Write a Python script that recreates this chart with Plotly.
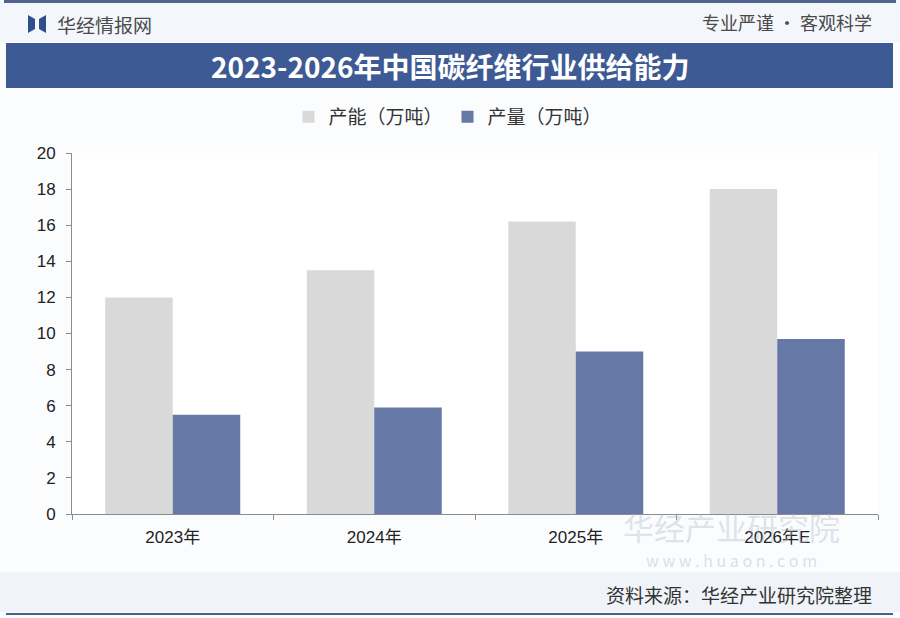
import plotly.graph_objects as go

# data
years = ['2023年', '2024年', '2025年', '2026年E']
capacity = [12.0, 13.5, 16.2, 18.0]   # 产能（万吨）
output = [5.5, 5.9, 9.0, 9.7]         # 产量（万吨）
y_ticks = list(range(0, 21, 2))

W, H = 900, 618
# plot area in pixels
L, R, T, B = 72, 878, 153, 514

FONT = 'Noto Sans CJK SC'
TICK_FONT = 'Liberation Sans, Noto Sans CJK SC'
NAVY = '#3d5a94'


def px(x):
    return (x - L) / (R - L)


def py(y):
    return (B - y) / (B - T)


fig = go.Figure()
fig.add_trace(go.Bar(name='产能（万吨）', x=years, y=capacity,
                     marker=dict(color='#d9d9d9', line_width=0)))
fig.add_trace(go.Bar(name='产量（万吨）', x=years, y=output,
                     marker=dict(color='#6578a6', line_width=0)))

shapes = [
    # header strip
    dict(type='rect', xref='paper', yref='paper', x0=px(0), x1=px(W), y0=py(42), y1=py(0),
         fillcolor='#f3f6fa', line_width=0, layer='below'),
    # top rule
    dict(type='rect', xref='paper', yref='paper', x0=px(4), x1=px(896), y0=py(3), y1=py(0),
         fillcolor='#4f6590', line_width=0),
    # title band
    dict(type='rect', xref='paper', yref='paper', x0=px(6), x1=px(893), y0=py(88), y1=py(43),
         fillcolor=NAVY, line_width=0),
    # footer band
    dict(type='rect', xref='paper', yref='paper', x0=px(0), x1=px(W), y0=py(612), y1=py(572),
         fillcolor='#f0f3f7', line_width=0, layer='below'),
    # bottom rule
    dict(type='line', xref='paper', yref='paper', x0=px(6), x1=px(893), y0=py(614), y1=py(614),
         line=dict(color='#4a5f88', width=2)),
    # logo mark
    dict(type='path', xref='paper', yref='paper', line_width=0, fillcolor='#2f4f8c',
         path=(f'M {px(28)},{py(15)} L {px(35)},{py(19)} L {px(35)},{py(29)} '
               f'L {px(28)},{py(33)} Z '
               f'M {px(46)},{py(15)} L {px(39)},{py(19)} L {px(39)},{py(29)} '
               f'L {px(46)},{py(33)} Z')),
]

annotations = [
    dict(text='华经情报网', x=px(55), y=py(24), xref='paper', yref='paper',
         xanchor='left', yanchor='middle', showarrow=False,
         font=dict(family=FONT, size=19, color='#4a4a4a')),
    dict(text='专业严谨 • 客观科学', x=px(874), y=py(22), xref='paper', yref='paper',
         xanchor='right', yanchor='middle', showarrow=False,
         font=dict(family=FONT, size=18, color='#4a4a4a')),
    dict(text='<b>2023-2026年中国碳纤维行业供给能力</b>', x=px(450), y=py(66),
         xref='paper', yref='paper', xanchor='center', yanchor='middle', showarrow=False,
         font=dict(family=FONT, size=28, color='white')),
    # watermark
    dict(text='华经产业研究院', x=px(731), y=py(526), xref='paper', yref='paper',
         xanchor='center', yanchor='middle', showarrow=False,
         font=dict(family=FONT, size=31, color='rgba(175,185,200,0.4)')),
    dict(text='w w w . h u a o n . c o m', x=px(731), y=py(560), xref='paper', yref='paper',
         xanchor='center', yanchor='middle', showarrow=False,
         font=dict(family=FONT, size=16, color='rgba(175,185,200,0.45)')),
    dict(text='资料来源：华经产业研究院整理', x=px(874), y=py(594), xref='paper', yref='paper',
         xanchor='right', yanchor='middle', showarrow=False,
         font=dict(family=FONT, size=19, color='#333333')),
]

fig.update_layout(
    width=W, height=H,
    margin=dict(l=L, r=W - R, t=T, b=H - B, pad=0),
    paper_bgcolor='#fbfcfe',
    plot_bgcolor='#ffffff',
    font=dict(family=FONT, size=15, color='#333333'),
    barmode='group', bargap=0.33, bargroupgap=0,
    showlegend=True,
    legend=dict(orientation='h', x=px(448), xanchor='center', xref='paper',
                y=py(117), yanchor='middle', yref='paper',
                font=dict(family=FONT, size=19, color='#333333'),
                bgcolor='rgba(0,0,0,0)', itemwidth=30, traceorder='normal'),
    shapes=shapes,
    annotations=annotations,
)
fig.update_xaxes(showline=True, linecolor='#8c8c8c', linewidth=1,
                 ticks='outside', tickson='boundaries', ticklen=5, tickcolor='#8c8c8c',
                 ticklabelstandoff=8, showgrid=False,
                 tickfont=dict(family=TICK_FONT, size=17, color='#222222'))
fig.update_yaxes(range=[0, 20], tickvals=y_ticks, showline=True, linecolor='#8c8c8c',
                 linewidth=1, ticks='outside', ticklen=5, tickcolor='#8c8c8c',
                 ticklabelstandoff=7, showgrid=False, zeroline=False,
                 tickfont=dict(family=TICK_FONT, size=17, color='#222222'))

fig.write_html('out.html', config={'displayModeBar': False},
               post_script="document.body.style.margin='0';")
